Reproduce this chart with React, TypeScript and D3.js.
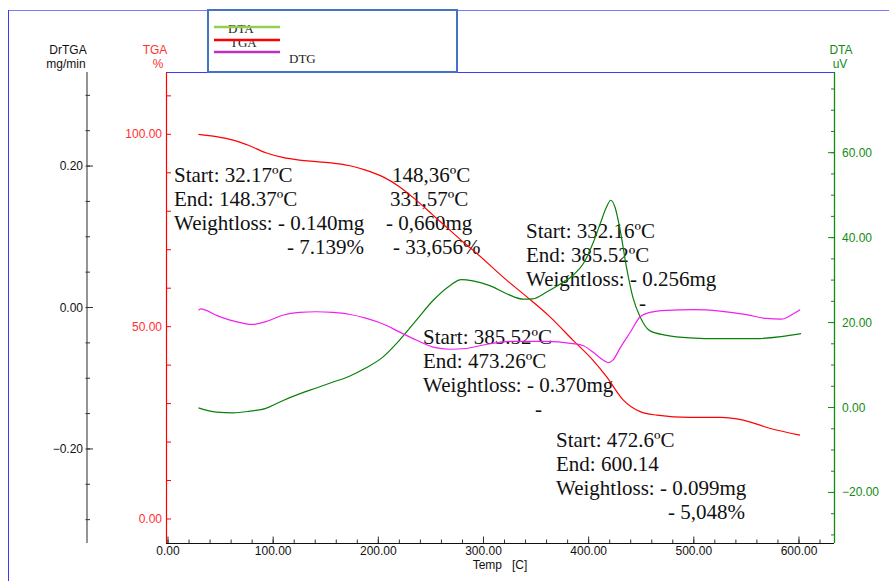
import React from "react";
import * as d3 from "d3";

// ---- Thermal analysis data (temperature in °C) ----
const tgaTemp = [29, 46, 62, 77, 93, 109, 125, 141, 157, 172, 188, 204, 220, 236, 252, 268, 282, 290, 322, 341, 363, 385, 404, 417, 433, 449, 465, 496, 525, 547, 572, 601];
const tgaMass = [100.0, 99.4, 98.5, 97.1, 95.2, 94.0, 93.3, 92.9, 92.5, 91.9, 90.7, 89.0, 86.4, 82.9, 79.0, 75.1, 71.7, 69.9, 62.1, 57.8, 52.6, 46.5, 41.3, 37.0, 30.9, 27.9, 27.0, 26.4, 26.4, 25.7, 23.6, 21.8];

const dtaTemp = [29, 46, 62, 77, 93, 109, 125, 141, 157, 172, 188, 204, 220, 236, 252, 268, 279, 290, 306, 322, 338, 347, 360, 373, 385, 395, 404, 411, 417, 421, 425, 430, 436, 442, 449, 458, 474, 496, 525, 557, 583, 602];
const dtaSignal = [-0.1, -1.1, -1.25, -0.9, -0.2, 1.6, 3.2, 4.6, 6.0, 7.3, 9.3, 11.8, 15.8, 20.5, 25.2, 28.7, 30.1, 29.8, 28.7, 26.8, 25.5, 25.6, 27.2, 29.1, 31.1, 33.9, 38.6, 43.3, 47.2, 48.8, 47.2, 41.7, 33.0, 26.0, 21.3, 18.1, 17.0, 16.4, 16.2, 16.2, 16.7, 17.4];

const dtgTemp = [29, 31, 46, 62, 80, 93, 109, 125, 141, 157, 172, 188, 204, 220, 236, 252, 268, 283, 300, 325, 357, 385, 395, 404, 414, 419, 423, 430, 440, 449, 458, 474, 500, 525, 550, 569, 583, 595, 601];
const dtgRate = [-0.004, -0.002, -0.011, -0.019, -0.024, -0.020, -0.011, -0.007, -0.006, -0.007, -0.0095, -0.015, -0.023, -0.0345, -0.046, -0.056, -0.059, -0.058, -0.053, -0.048, -0.048, -0.051, -0.054, -0.063, -0.0745, -0.078, -0.0745, -0.057, -0.034, -0.013, -0.007, -0.004, -0.003, -0.005, -0.010, -0.0155, -0.0165, -0.0085, -0.003];

// ---- Axis ticks ----
const tempMajor = [0, 100, 200, 300, 400, 500, 600];
const tempMinor = d3.range(0, 621, 20);
const tgaMajor = [0, 50, 100];
const tgaMinor = d3.range(0, 111, 10);
const dtaMajor = [-20, 0, 20, 40, 60];
const dtaMinor = d3.range(-30, 76, 5);
const dtgMajor = [-0.2, 0, 0.2];
const dtgMinor = d3.range(-6, 7).map((k) => k * 0.05);

// ---- Annotation text blocks ----
const block1Left = ["Start: 32.17ºC", "End: 148.37ºC", "Weightloss: - 0.140mg"];
const block1Right = ["148,36ºC", "331,57ºC", "- 0,660mg", "- 33,656%"];
const block1Pct = "- 7.139%";
const block2 = ["Start: 332.16ºC", "End: 385.52ºC", "Weightloss: - 0.256mg"];
const block3 = ["Start: 385.52ºC", "End: 473.26ºC", "Weightloss: - 0.370mg"];
const block4 = ["Start: 472.6ºC", "End: 600.14", "Weightloss: - 0.099mg"];
const block4Pct = "- 5,048%";

const W = 889;
const H = 581;
const plot = { left: 166, right: 834, top: 72, bottom: 543 };

const sans = "'Liberation Sans', Arial, Helvetica, sans-serif";
const serif = "'Liberation Serif', 'Times New Roman', Times, serif";

const RED = "#ff0000";
const GREEN = "#128c12";
const DTA_LINE = "#0a800a";
const MAGENTA = "#f020f0";

export default function App() {
  const x = d3.scaleLinear().domain([-1.9, 633.3]).range([plot.left, plot.right]);
  const yTga = d3.scaleLinear().domain([-6.24, 116.2]).range([plot.bottom, plot.top]);
  const yDta = d3.scaleLinear().domain([-31.9, 79.0]).range([plot.bottom, plot.top]);
  const yDtg = d3.scaleLinear().domain([-0.333, 0.333]).range([plot.bottom, plot.top]);

  const mk = (ts: number[], vs: number[], ys: d3.ScaleLinear<number, number>) =>
    d3
      .line<number>()
      .x((_, i) => x(ts[i]))
      .y((v) => ys(v))
      .curve(d3.curveMonotoneX)(vs) || "";

  const tgaPath = mk(tgaTemp, tgaMass, yTga);
  const dtaPath = mk(dtaTemp, dtaSignal, yDta);
  const dtgPath = mk(dtgTemp, dtgRate, yDtg);

  const fmt2 = d3.format(".2f");
  const grayX = 87;

  const annot = (lines: string[], x0: number, y0: number) =>
    lines.map((t, i) => (
      <text key={t + i} x={x0} y={y0 + i * 24}>
        {t}
      </text>
    ));

  return (
    <svg
      width={W}
      height={H}
      style={{ position: "absolute", left: 0, top: 0, background: "#fff" }}
    >
      <rect x={0} y={0} width={W} height={H} fill="#fff" />
      {/* outer frame */}
      <line x1={8} y1={10.5} x2={W} y2={10.5} stroke="#7a7aff" strokeWidth={1} />
      <line x1={8.5} y1={10} x2={8.5} y2={H} stroke="#3a3aff" strokeWidth={1} />

      {/* plot top border */}
      <line x1={plot.left} y1={plot.top + 0.5} x2={plot.right} y2={plot.top + 0.5} stroke="#3a3aff" strokeWidth={1.2} />

      {/* DrTGA axis (gray, outer left) */}
      <line x1={grayX} y1={plot.top} x2={grayX} y2={plot.bottom} stroke="#7a7a7a" strokeWidth={1.6} />
      {dtgMinor.map((v) => (
        <line key={"gm" + v} x1={grayX - 1.5} x2={grayX + 3} y1={yDtg(v)} y2={yDtg(v)} stroke="#333" strokeWidth={1} />
      ))}
      {dtgMajor.map((v) => (
        <g key={"gM" + v}>
          <line x1={grayX} x2={grayX + 6} y1={yDtg(v)} y2={yDtg(v)} stroke="#333" strokeWidth={1} />
          <text x={83} y={yDtg(v) + 4} textAnchor="end" fontFamily={sans} fontSize={12} fill="#111">
            {fmt2(Math.abs(v) < 1e-9 ? 0 : v)}
          </text>
        </g>
      ))}
      <text x={68} y={54} textAnchor="middle" fontFamily={sans} fontSize={12} fill="#111">DrTGA</text>
      <text x={66} y={68} textAnchor="middle" fontFamily={sans} fontSize={12} fill="#111">mg/min</text>

      {/* TGA axis (red) */}
      <line x1={plot.left + 0.5} y1={plot.top} x2={plot.left + 0.5} y2={plot.bottom} stroke={RED} strokeWidth={1.2} />
      {tgaMinor.map((v) => (
        <line key={"tm" + v} x1={plot.left} x2={plot.left + 5} y1={yTga(v)} y2={yTga(v)} stroke={RED} strokeWidth={1} />
      ))}
      {tgaMajor.map((v) => (
        <text key={"tM" + v} x={162} y={yTga(v) + 4} textAnchor="end" fontFamily={sans} fontSize={12} fill="#ff3030">
          {fmt2(v)}
        </text>
      ))}
      <text x={155} y={54} textAnchor="middle" fontFamily={sans} fontSize={12} fill="#ff3030">TGA</text>
      <text x={158} y={68} textAnchor="middle" fontFamily={sans} fontSize={12} fill="#ff3030">%</text>

      {/* DTA axis (green, right) */}
      <line x1={plot.right + 0.5} y1={plot.top} x2={plot.right + 0.5} y2={plot.bottom} stroke={GREEN} strokeWidth={1.3} />
      {dtaMinor.map((v) => (
        <line key={"dm" + v} x1={plot.right - 3} x2={plot.right} y1={yDta(v)} y2={yDta(v)} stroke={GREEN} strokeWidth={1} />
      ))}
      {dtaMajor.map((v) => (
        <g key={"dM" + v}>
          <line x1={plot.right - 6} x2={plot.right} y1={yDta(v)} y2={yDta(v)} stroke={GREEN} strokeWidth={1} />
          <text x={842} y={yDta(v) + 4} fontFamily={sans} fontSize={12} fill={GREEN}>
            {fmt2(v)}
          </text>
        </g>
      ))}
      <text x={841} y={54} textAnchor="middle" fontFamily={sans} fontSize={12} fill={GREEN}>DTA</text>
      <text x={840} y={68} textAnchor="middle" fontFamily={sans} fontSize={12} fill={GREEN}>uV</text>

      {/* Temperature axis */}
      <line x1={plot.left} y1={plot.bottom + 0.5} x2={plot.right} y2={plot.bottom + 0.5} stroke="#111" strokeWidth={1.2} />
      {tempMinor.map((v) => (
        <line key={"xm" + v} x1={x(v)} x2={x(v)} y1={plot.bottom} y2={plot.bottom - 3.5} stroke="#333" strokeWidth={1} />
      ))}
      {tempMajor.map((v) => (
        <g key={"xM" + v}>
          <line x1={x(v)} x2={x(v)} y1={plot.bottom} y2={plot.bottom - 6.5} stroke="#333" strokeWidth={1} />
          <text x={x(v)} y={555} textAnchor="middle" fontFamily={sans} fontSize={12} fill="#111">
            {fmt2(v)}
          </text>
        </g>
      ))}
      <text x={500} y={569} textAnchor="middle" fontFamily={sans} fontSize={12} fill="#111" style={{ whiteSpace: "pre" }}>
        {"Temp   [C]"}
      </text>

      {/* annotations */}
      <g fontFamily={serif} fontSize={21} fill="#111">
        {annot(block1Left, 174, 182)}
        <text x={287} y={254}>{block1Pct}</text>
        <text x={392} y={182}>{block1Right[0]}</text>
        <text x={390} y={206}>{block1Right[1]}</text>
        <text x={386} y={230}>{block1Right[2]}</text>
        <text x={393} y={254}>{block1Right[3]}</text>

        {annot(block2, 526, 238)}
        <text x={639} y={310}>-</text>

        {annot(block3, 423, 344)}
        <text x={535} y={416}>-</text>

        {annot(block4, 556, 447)}
        <text x={668} y={519}>{block4Pct}</text>
      </g>

      {/* curves */}
      <path d={tgaPath} fill="none" stroke={RED} strokeWidth={1.2} />
      <path d={dtaPath} fill="none" stroke={DTA_LINE} strokeWidth={1.2} />
      <path d={dtgPath} fill="none" stroke={MAGENTA} strokeWidth={1.2} />

      {/* legend */}
      <rect x={208} y={10} width={249} height={62} fill="#fff" stroke="#4472c4" strokeWidth={2} />
      <g fontFamily={serif} fontSize={13} fill="#222">
        <text x={228} y={32.5}>DTA</text>
        <text x={230} y={47}>TGA</text>
        <text x={289} y={62.5}>DTG</text>
      </g>
      <line x1={214} x2={280} y1={27} y2={27} stroke="#92d050" strokeWidth={2.5} />
      <line x1={214} x2={280} y1={40} y2={40} stroke={RED} strokeWidth={2.5} />
      <line x1={214} x2={280} y1={52} y2={52} stroke="#c030c0" strokeWidth={2.5} />
    </svg>
  );
}
